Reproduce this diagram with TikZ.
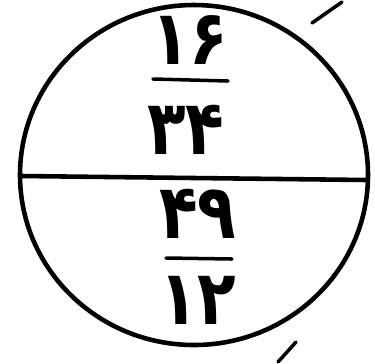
\documentclass[tikz,border=0pt]{standalone}
\usepackage{fontspec}
\newfontfamily\arabicfont{DejaVu Sans}
\begin{document}
\begin{tikzpicture}[x=0.02cm, y=-0.02cm, line cap=round,
    digits/.style={font=\arabicfont\fontsize{36}{42}\selectfont\bfseries, inner sep=0pt, yscale=1.2},
    ink/.style={line width=2.6pt, black}]
        \useasboundingbox (0, 0) rectangle (375, 363);

        % circle and diameter
        \draw[ink] (194, 175) ellipse [x radius=174, y radius=170];
        \coordinate (dl) at (21, 176);
        \coordinate (dr) at (367, 180);
        \draw[ink] (dl) -- (dr);

        % upper fraction
        \node[digits] (numa) at (190, 40) {۱۶};
        \node[digits] (dena) at (186, 130) {۳۴};
        \coordinate (bal) at (153, 79);
        \coordinate (bar) at (228, 81);
        \draw[line width=2pt] (bal) -- (bar);

        % lower fraction
        \node[digits] (numb) at (198, 214) {۴۹};
        \node[digits] (denb) at (198, 300) {۱۲};
        \coordinate (bbl) at (166, 258);
        \coordinate (bbr) at (232, 259);
        \draw[line width=2pt] (bbl) -- (bbr);

        % stray strokes
        \coordinate (sa) at (312, 23);
        \coordinate (sb) at (342, 2);
        \draw[line width=2pt] (sa) -- (sb);
        \coordinate (sc) at (278, 362);
        \coordinate (sd) at (296, 342);
        \draw[line width=2pt] (sc) -- (sd);
    \end{tikzpicture}
\end{document}
